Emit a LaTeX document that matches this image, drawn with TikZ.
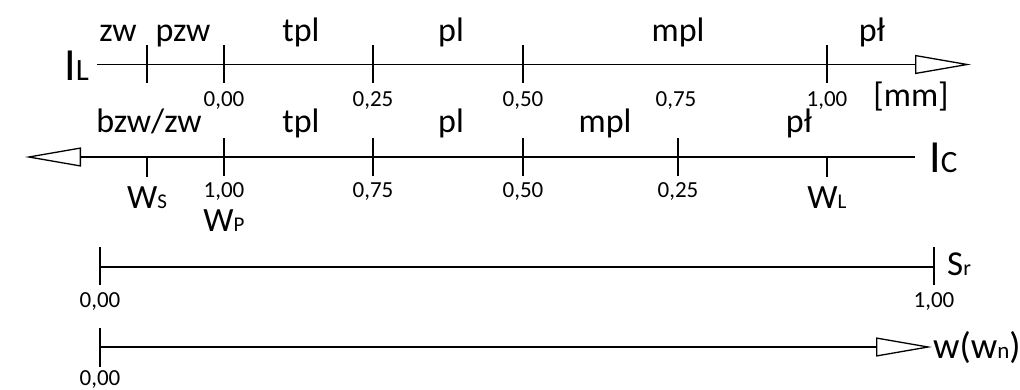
\documentclass[tikz,border=0pt]{standalone}
\usepackage{fontspec}
\setmainfont{Carlito}
\usetikzlibrary{arrows.meta}
\begin{document}
\begin{tikzpicture}[x=1pt,y=-1pt,
  axis/.style={line width=1.5pt},
  tickmark/.style={line width=1.5pt},
  openarrow/.style={-{Triangle[open,length=56pt,width=19pt,line width=1.3pt]}},
  zone/.style={inner sep=0pt,anchor=base,font=\fontsize{34}{38}\selectfont},
  val/.style={inner sep=0pt,anchor=base,font=\fontsize{23}{26}\selectfont},
  sym/.style={inner sep=0pt,anchor=base,font=\fontsize{34}{38}\selectfont},
  bigsym/.style={inner sep=0pt,anchor=base west},
]
\useasboundingbox (0,0) rectangle (1020,389);

% ---- axis I_L (left to right)
\coordinate (a1s) at (97,64.5);
\coordinate (a1e) at (971,64.5);
\draw[axis,openarrow] (a1s) -- (a1e);
\foreach \x in {147,224,373,523,827}
  \draw[tickmark] (\x,45) -- (\x,83);
\node[bigsym] (il) at (64,80) {\fontsize{46}{50}\selectfont I\fontsize{31}{34}\selectfont L};
\node[zone] (z1) at (118,41) {zw};
\node[zone] (z2) at (183,41) {pzw};
\node[zone] (z3) at (301,41) {tpl};
\node[zone] (z4) at (451,41) {pl};
\node[zone] (z5) at (678,41) {mpl};
\node[zone] (z6) at (872,41) {pł};
\node[val] (v1) at (224,106) {0,00};
\node[val] (v2) at (373,106) {0,25};
\node[val] (v3) at (523,106) {0,50};
\node[val] (v4) at (676,106) {0,75};
\node[val] (v5) at (827,106) {1,00};
\node[zone] (unit) at (911,106) {[mm]};

% ---- axis I_C (right to left)
\coordinate (a2s) at (915,157);
\coordinate (a2e) at (25,157);
\draw[axis,openarrow] (a2s) -- (a2e);
\foreach \x in {224,373,523,678}
  \draw[tickmark] (\x,138) -- (\x,176);
\foreach \x in {147,827}
  \draw[tickmark] (\x,157) -- (\x,177);
\node[bigsym] (ic) at (929,172) {\fontsize{46}{50}\selectfont I\fontsize{31}{34}\selectfont C};
\node[zone] (c1) at (149,132) {bzw/zw};
\node[zone] (c2) at (301,132) {tpl};
\node[zone] (c3) at (451,132) {pl};
\node[zone] (c4) at (605,132) {mpl};
\node[zone] (c5) at (799,132) {pł};
\node[val] (w1) at (224,197) {1,00};
\node[val] (w2) at (373,197) {0,75};
\node[val] (w3) at (523,197) {0,50};
\node[val] (w4) at (678,197) {0,25};
\node[sym] (ws) at (147,208) {W{\fontsize{21}{24}\selectfont S}};
\node[sym] (wp) at (224,231) {W{\fontsize{21}{24}\selectfont P}};
\node[sym] (wl) at (827,208) {W{\fontsize{21}{24}\selectfont L}};

% ---- axis S_r
\coordinate (a3s) at (100,267);
\coordinate (a3e) at (934,267);
\draw[axis] (a3s) -- (a3e);
\draw[tickmark] (100,247) -- (100,285);
\draw[tickmark] (934,247) -- (934,285);
\node[val] (s1) at (100,307) {0,00};
\node[val] (s2) at (934,307) {1,00};
\node[bigsym,font=\fontsize{35}{38}\selectfont] (sr) at (947,275) {S{\fontsize{22}{24}\selectfont r}};

% ---- axis w(w_n)
\coordinate (a4s) at (100,347);
\coordinate (a4e) at (932,347);
\draw[axis,openarrow] (a4s) -- (a4e);
\draw[tickmark] (100,328) -- (100,367);
\node[val] (n1) at (100,385) {0,00};
\node[bigsym,font=\fontsize{37}{40}\selectfont] (wn) at (933,358) {w(w{\fontsize{23}{26}\selectfont n})};
\end{tikzpicture}
\end{document}
